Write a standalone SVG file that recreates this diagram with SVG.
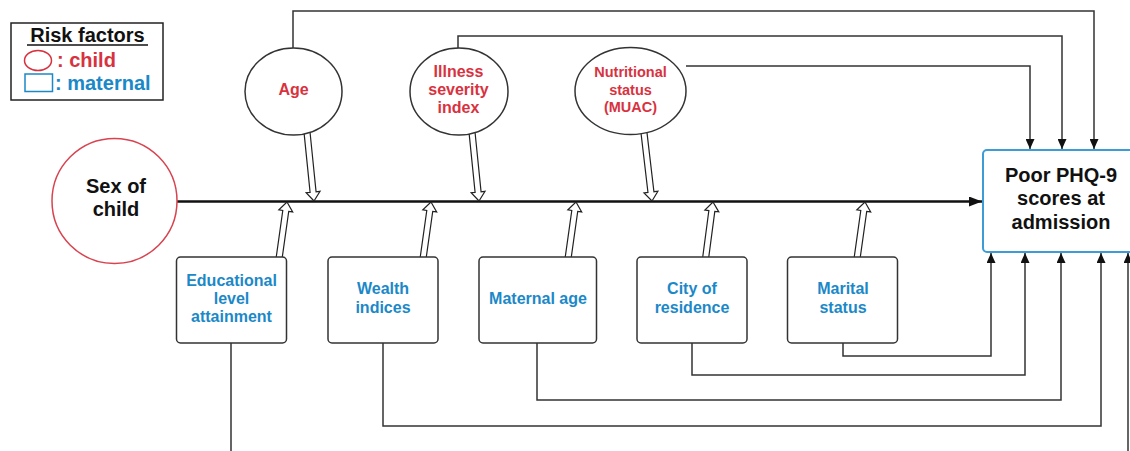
<svg xmlns="http://www.w3.org/2000/svg" width="1130" height="451" viewBox="0 0 1130 451">
<style>
text{font-family:"Liberation Sans",Arial,sans-serif;font-weight:bold;text-anchor:middle}
.red{fill:#d8323f}
.blue{fill:#1b88c8}
.blk{fill:#111}
.ell{fill:#fff;stroke:#333;stroke-width:1.5}
.box{fill:#fff;stroke:#333;stroke-width:1.5}
.con{fill:none;stroke:#333;stroke-width:1.5}
.blkarrow{fill:#fff;stroke:#222;stroke-width:1.2;stroke-linejoin:miter}
</style>
<defs>
<marker id="ah" markerWidth="10" markerHeight="9" refX="10" refY="4.5" orient="auto" markerUnits="userSpaceOnUse"><path d="M0,0 L10,4.5 L0,9 Z" fill="#111"/></marker>
<marker id="ahm" markerWidth="13" markerHeight="10" refX="13" refY="5" orient="auto" markerUnits="userSpaceOnUse"><path d="M0,0 L13,5 L0,10 Z" fill="#111"/></marker>
<path id="up" d="M0,0 L7,9 L3,9 L3,58 L-3,58 L-3,9 L-7,9 Z"/>
<path id="down" d="M0,0 L7,-9 L3,-9 L3,-70 L-3,-70 L-3,-9 L-7,-9 Z"/>
</defs>
<rect width="1130" height="451" fill="#fff"/>

<g id="connectors">
<path class="con" d="M293,48 V11 H1094 V149" marker-end="url(#ah)"/>
<path class="con" d="M458,48 V36 H1062 V149" marker-end="url(#ah)"/>
<path class="con" d="M686,66 H1030 V149" marker-end="url(#ah)"/>
<path class="con" d="M843,343 V356 H991 V253" marker-end="url(#ah)"/>
<path class="con" d="M692,343 V375 H1025 V253" marker-end="url(#ah)"/>
<path class="con" d="M537,343 V400 H1061 V253" marker-end="url(#ah)"/>
<path class="con" d="M383,343 V426 H1101 V253" marker-end="url(#ah)"/>
<path class="con" d="M231,343 V470 H1128 V253" marker-end="url(#ah)"/>
<path d="M177,201.5 H982" fill="none" stroke="#111" stroke-width="2.5" marker-end="url(#ahm)"/>
<use href="#up" class="blkarrow" transform="translate(287,202) rotate(8)"/>
<use href="#up" class="blkarrow" transform="translate(431,202) rotate(8)"/>
<use href="#up" class="blkarrow" transform="translate(576,202) rotate(8)"/>
<use href="#up" class="blkarrow" transform="translate(713,202) rotate(7.5)"/>
<use href="#up" class="blkarrow" transform="translate(865,202) rotate(8)"/>
<use href="#down" class="blkarrow" transform="translate(314,201) rotate(-5.8)"/>
<use href="#down" class="blkarrow" transform="translate(479,201) rotate(-5.8)"/>
<use href="#down" class="blkarrow" transform="translate(652,201) rotate(-6.7)"/>
</g>

<g id="legend">
<rect x="11" y="23" width="152" height="77" fill="#fff" stroke="#222" stroke-width="1.5"/>
<text x="87.5" y="42" class="blk" font-size="20">Risk factors</text>
<line x1="27" y1="45" x2="148" y2="45" stroke="#111" stroke-width="1.5"/>
<ellipse cx="38" cy="60.5" rx="13.5" ry="10" fill="#fff" stroke="#d8323f" stroke-width="1.5"/>
<text x="57" y="66.5" class="red" font-size="20" style="text-anchor:start">: child</text>
<rect x="25" y="74" width="27.5" height="17.5" fill="#fff" stroke="#1b88c8" stroke-width="1.5"/>
<text x="55" y="90" class="blue" font-size="20" style="text-anchor:start">: maternal</text>
</g>

<g id="sex-of-child">
<circle cx="114.5" cy="201" r="62.5" fill="#fff" stroke="#d8434f" stroke-width="1.5"/>
<text x="116" y="193" class="blk" font-size="20">Sex of</text>
<text x="116" y="216" class="blk" font-size="20">child</text>
</g>

<g id="age">
<ellipse class="ell" cx="293.5" cy="91.5" rx="48.5" ry="43.5"/>
<text x="293.5" y="95" class="red" font-size="16">Age</text>
</g>

<g id="illness-severity">
<ellipse class="ell" cx="459" cy="91.5" rx="49" ry="43.5"/>
<text x="458.5" y="76.5" class="red" font-size="16">Illness</text>
<text x="458.5" y="94.5" class="red" font-size="16">severity</text>
<text x="458.5" y="113" class="red" font-size="16">index</text>
</g>

<g id="nutritional-status">
<ellipse class="ell" cx="630.5" cy="91" rx="55.5" ry="43.5"/>
<text x="630.5" y="77" class="red" font-size="14.5">Nutritional</text>
<text x="630.5" y="94.5" class="red" font-size="14.5">status</text>
<text x="630.5" y="112" class="red" font-size="14.5">(MUAC)</text>
</g>

<g id="poor-phq9">
<rect x="983" y="150" width="165" height="102" rx="4" fill="#fff" stroke="#3d9bd6" stroke-width="2"/>
<text x="1061" y="182" class="blk" font-size="20">Poor PHQ-9</text>
<text x="1061" y="205" class="blk" font-size="20">scores at</text>
<text x="1061" y="229" class="blk" font-size="20">admission</text>
</g>

<g id="educational-level">
<rect class="box" x="176.5" y="257" width="110" height="86" rx="4"/>
<text x="231.5" y="285.5" class="blue" font-size="16">Educational</text>
<text x="231.5" y="303.5" class="blue" font-size="16">level</text>
<text x="231.5" y="321.5" class="blue" font-size="16">attainment</text>
</g>

<g id="wealth-indices">
<rect class="box" x="328" y="257" width="110" height="86" rx="4"/>
<text x="383" y="294" class="blue" font-size="16">Wealth</text>
<text x="383" y="312.5" class="blue" font-size="16">indices</text>
</g>

<g id="maternal-age">
<rect class="box" x="479" y="257" width="117.5" height="86" rx="4"/>
<text x="538" y="304" class="blue" font-size="16">Maternal age</text>
</g>

<g id="city-of-residence">
<rect class="box" x="637" y="257" width="110" height="86" rx="4"/>
<text x="692" y="294" class="blue" font-size="16">City of</text>
<text x="692" y="313" class="blue" font-size="16">residence</text>
</g>

<g id="marital-status">
<rect class="box" x="787.5" y="257" width="110" height="86" rx="4"/>
<text x="843" y="294" class="blue" font-size="16">Marital</text>
<text x="843" y="312.5" class="blue" font-size="16">status</text>
</g>
</svg>
